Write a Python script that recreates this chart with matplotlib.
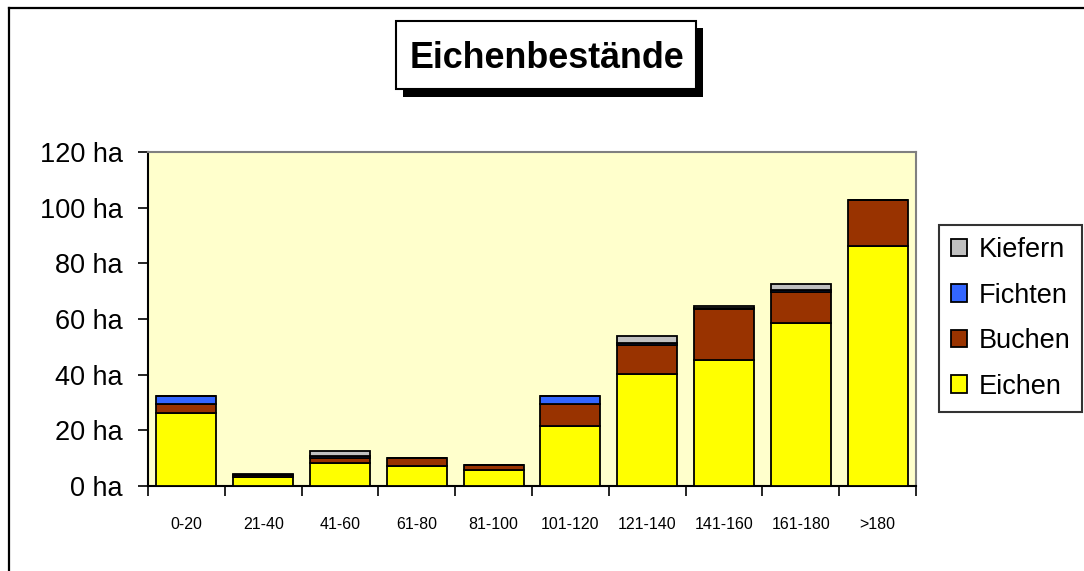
import numpy as np
import matplotlib
matplotlib.use("Agg")
import matplotlib.pyplot as plt
from matplotlib import font_manager
from matplotlib.patches import Rectangle
from matplotlib.lines import Line2D

# Altersklassen (Jahre)
categories = ["0-20", "21-40", "41-60", "61-80", "81-100",
              "101-120", "121-140", "141-160", "161-180", ">180"]
# Flaechen in ha je Baumart
eichen = [26.2, 3.2, 8.4, 7.3, 5.6, 21.7, 40.4, 45.2, 58.4, 86.2]
buchen = [3.2, 0.7, 1.7, 2.9, 2.1, 7.9, 10.3, 18.5, 11.3, 16.5]
fichten = [2.9, 0.0, 0.5, 0.0, 0.0, 2.9, 0.8, 0.4, 0.8, 0.0]
kiefern = [0.0, 0.4, 2.0, 0.0, 0.0, 0.0, 2.5, 0.5, 2.0, 0.0]
y_ticks = [0, 20, 40, 60, 80, 100, 120]

series = [("Eichen", eichen, "#FFFF00"),
          ("Buchen", buchen, "#993300"),
          ("Fichten", fichten, "#3366FF"),
          ("Kiefern", kiefern, "#C0C0C0")]

plt.rcParams["font.family"] = ["Liberation Sans", "DejaVu Sans"]

# schmale Schrift fuer die Kategorien, falls vorhanden
try:
    font_manager.findfont("Liberation Sans Narrow", fallback_to_default=False)
    narrow = "Liberation Sans Narrow"
    narrow_size = 14
except Exception:
    narrow = "Liberation Sans"
    narrow_size = 11.5

W, H = 1084, 571
fig = plt.figure(figsize=(W / 100, H / 100), dpi=100)
fig.patch.set_facecolor("white")

ax = fig.add_axes([148 / W, 1 - 486 / H, (916 - 148) / W, (486 - 152) / H])
ax.set_facecolor("#FFFFCC")

x = np.arange(len(categories))
bottom = np.zeros(len(categories))
handles = []
for name, vals, col in series:
    vals = np.array(vals)
    b = ax.bar(x, vals, width=0.78, bottom=bottom, color=col,
               edgecolor="black", linewidth=1.3, label=name, zorder=3)
    handles.append(b)
    bottom = bottom + vals

ax.set_xlim(-0.5, len(categories) - 0.5)
ax.set_ylim(0, 120)
ax.set_yticks(y_ticks)
ax.set_yticklabels([f"{v} ha" for v in y_ticks])
ax.tick_params(axis="y", direction="out", length=7, width=1.2,
               labelsize=19.5, pad=11, colors="black")

ax.set_xticks(x)
ax.set_xticklabels(categories, fontfamily=narrow, fontsize=narrow_size)
ax.tick_params(axis="x", which="major", length=0, pad=22)
ax.set_xticks(np.arange(-0.5, len(categories)), minor=True)
ax.tick_params(axis="x", which="minor", direction="out", length=7, width=1.2)

for s in ["left", "bottom"]:
    ax.spines[s].set_color("black")
    ax.spines[s].set_linewidth(1.5)
for s in ["top", "right"]:
    ax.spines[s].set_color("#808080")
    ax.spines[s].set_linewidth(1.5)

# Legende (umgekehrte Reihenfolge wie im Stapel)
leg = fig.legend(handles[::-1], [s[0] for s in series][::-1],
                 loc="upper left",
                 bbox_to_anchor=(939 / W, 1 - 225 / H),
                 fontsize=19.5, frameon=True, fancybox=False,
                 handlelength=0.6, handleheight=0.62, handletextpad=0.4,
                 labelspacing=0.72, borderpad=0.45, borderaxespad=0)
leg.get_frame().set_edgecolor("black")
leg.get_frame().set_linewidth(1.5)

# Titel im Kasten mit Schatten
fig.patches.append(Rectangle((403 / W, 1 - 96.7 / H), 300 / W, 68.6 / H,
                             transform=fig.transFigure, facecolor="black",
                             edgecolor="none", zorder=1))
fig.patches.append(Rectangle((396 / W, 1 - 89.3 / H), 300 / W, 68.6 / H,
                             transform=fig.transFigure, facecolor="white",
                             edgecolor="black", linewidth=1.5, zorder=2))
fig.text(546.5 / W, 1 - 68.3 / H, "Eichenbestände", ha="center",
         va="baseline", fontsize=25.8, fontweight="bold", zorder=3)

# Rahmenlinien oben und links
fig.lines.append(Line2D([9 / W, 1], [1 - 7.5 / H, 1 - 7.5 / H],
                        transform=fig.transFigure, color="black", linewidth=1.6))
fig.lines.append(Line2D([9 / W, 9 / W], [0, 1 - 7.5 / H],
                        transform=fig.transFigure, color="black", linewidth=1.6))

fig.savefig("out.png", dpi=100)
